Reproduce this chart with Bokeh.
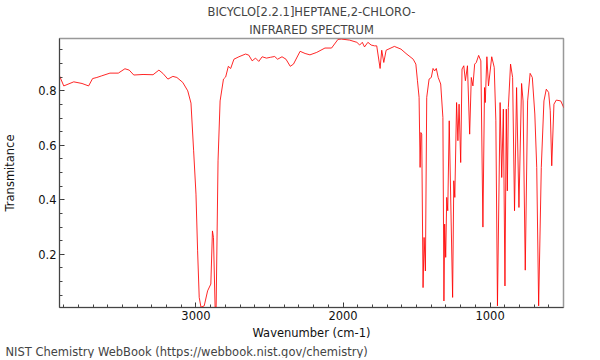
from bokeh.plotting import figure
from bokeh.models import Range1d, SingleIntervalTicker, Title
from bokeh.embed import file_html
from bokeh.resources import INLINE

title_line1 = "BICYCLO[2.2.1]HEPTANE,2-CHLORO-"
title_line2 = "INFRARED SPECTRUM"
x_label = "Wavenumber (cm-1)"
y_label = "Transmitance"
source_note = "NIST Chemistry WebBook (https://webbook.nist.gov/chemistry)"

wavenumber = [
    3928, 3899, 3831, 3775, 3730, 3703, 3674, 3641, 3585, 3528, 3483, 3454, 3423,
    3360, 3292, 3252, 3225, 3191, 3157, 3130, 3090, 3056, 3034, 3016, 3000, 2989,
    2978, 2966, 2944, 2921, 2899, 2888, 2881, 2870, 2863, 2850, 2836, 2813, 2798,
    2780, 2764, 2742, 2708, 2663, 2641, 2618, 2595, 2573, 2550, 2521, 2494, 2465,
    2445, 2415, 2388, 2359, 2337, 2292, 2258, 2225, 2179, 2123, 2078, 2034, 2011,
    1955, 1906, 1887, 1869, 1854, 1831, 1809, 1786, 1771, 1748, 1737, 1723, 1707,
    1651, 1606, 1572, 1523, 1505, 1494, 1483, 1476, 1471, 1465, 1456, 1449, 1440,
    1431, 1415, 1400, 1388, 1377, 1366, 1353, 1336, 1321, 1314, 1309, 1302, 1295,
    1288, 1278, 1255, 1247, 1240, 1228, 1219, 1211, 1200, 1191, 1179, 1168, 1154,
    1139, 1128, 1117, 1105, 1094, 1078, 1063, 1049, 1038, 1033, 1022, 1011, 989,
    972, 961, 950, 932, 921, 910, 899, 890, 883, 876, 861, 847, 834, 820, 804,
    786, 776, 761, 745, 728, 713, 696, 683, 670, 652, 634, 618, 602, 591, 581,
    566, 550, 520, 498,
]
transmittance = [
    0.855, 0.818, 0.833, 0.827, 0.818, 0.845, 0.849, 0.855, 0.865, 0.865, 0.881, 0.876, 0.858,
    0.860, 0.859, 0.876, 0.864, 0.843, 0.853, 0.849, 0.831, 0.800, 0.755, 0.580, 0.421, 0.213,
    0.042, 0.006, 0.011, 0.066, 0.091, 0.286, 0.262, 0.006, 0.006, 0.543, 0.763, 0.843, 0.851,
    0.890, 0.882, 0.916, 0.925, 0.935, 0.931, 0.910, 0.920, 0.908, 0.925, 0.920, 0.923, 0.926,
    0.916, 0.925, 0.916, 0.890, 0.898, 0.945, 0.937, 0.932, 0.941, 0.957, 0.957, 0.989, 0.990,
    0.986, 0.978, 0.968, 0.978, 0.961, 0.978, 0.968, 0.965, 0.965, 0.882, 0.949, 0.904, 0.949,
    0.963, 0.953, 0.937, 0.916, 0.898, 0.837, 0.776, 0.519, 0.647, 0.641, 0.078, 0.262, 0.139,
    0.776, 0.843, 0.849, 0.882, 0.873, 0.882, 0.849, 0.825, 0.702, 0.029, 0.311, 0.189, 0.409,
    0.360, 0.690, 0.042, 0.470, 0.409, 0.757, 0.617, 0.751, 0.537, 0.880, 0.892, 0.837, 0.892,
    0.641, 0.849, 0.818, 0.898, 0.904, 0.930, 0.910, 0.300, 0.812, 0.757, 0.925, 0.818, 0.925,
    0.886, 0.690, 0.011, 0.757, 0.482, 0.733, 0.084, 0.733, 0.433, 0.739, 0.898, 0.849, 0.360, 0.812, 0.372,
    0.827, 0.763, 0.142, 0.763, 0.864, 0.849, 0.715, 0.519, 0.011, 0.519, 0.763, 0.806, 0.794, 0.727, 0.525,
    0.751, 0.766, 0.763, 0.737,
]

FONT = "DejaVu Sans"
FS = "11.5px"

p = figure(
    width=588, height=358,
    output_backend="svg", toolbar_location=None,
    x_range=Range1d(3928, 501), y_range=Range1d(0.005, 0.992),
    min_border_left=54, min_border_right=25, min_border_top=38, min_border_bottom=50,
    background_fill_color="white", border_fill_color="white",
)

p.line(wavenumber, transmittance, line_color="#ff0000", line_width=1, line_alpha=0.85)

p.grid.visible = False
p.outline_line_color = "#999999"
p.outline_line_width = 1.5

p.xaxis.ticker = SingleIntervalTicker(interval=1000, num_minor_ticks=10)
p.yaxis.ticker = SingleIntervalTicker(interval=0.2, num_minor_ticks=4)

for ax in (p.xaxis[0], p.yaxis[0]):
    ax.major_tick_in = 5
    ax.major_tick_out = 0
    ax.minor_tick_in = 3
    ax.minor_tick_out = 0
    ax.axis_line_color = "#444444"
    ax.major_tick_line_color = "#333333"
    ax.minor_tick_line_color = "#444444"
    ax.major_label_text_font = FONT
    ax.major_label_text_font_size = FS
    ax.major_label_text_color = "#111111"
    ax.axis_label_text_font = FONT
    ax.axis_label_text_font_size = FS
    ax.axis_label_text_font_style = "normal"
    ax.axis_label_text_color = "#111111"

p.xaxis.major_label_standoff = 3
p.yaxis.major_label_standoff = 3
p.xaxis.axis_label = x_label
p.xaxis.axis_label_standoff = 3
p.yaxis.axis_label = y_label
p.yaxis.axis_label_standoff = 18

p.title.text = title_line1
p.title.align = "center"
p.title.text_font = FONT
p.title.text_font_size = FS
p.title.text_font_style = "normal"
p.title.standoff = 1

t2 = Title(text=title_line2, align="center", text_font=FONT, text_font_size=FS,
           text_font_style="normal", standoff=3)
p.add_layout(t2, "above")

note = Title(text=source_note, align="left", offset=-54, text_font=FONT,
             text_font_size=FS, text_font_style="normal", standoff=0)
p.add_layout(note, "below")

open("out.html", "w").write(file_html(p, INLINE))
